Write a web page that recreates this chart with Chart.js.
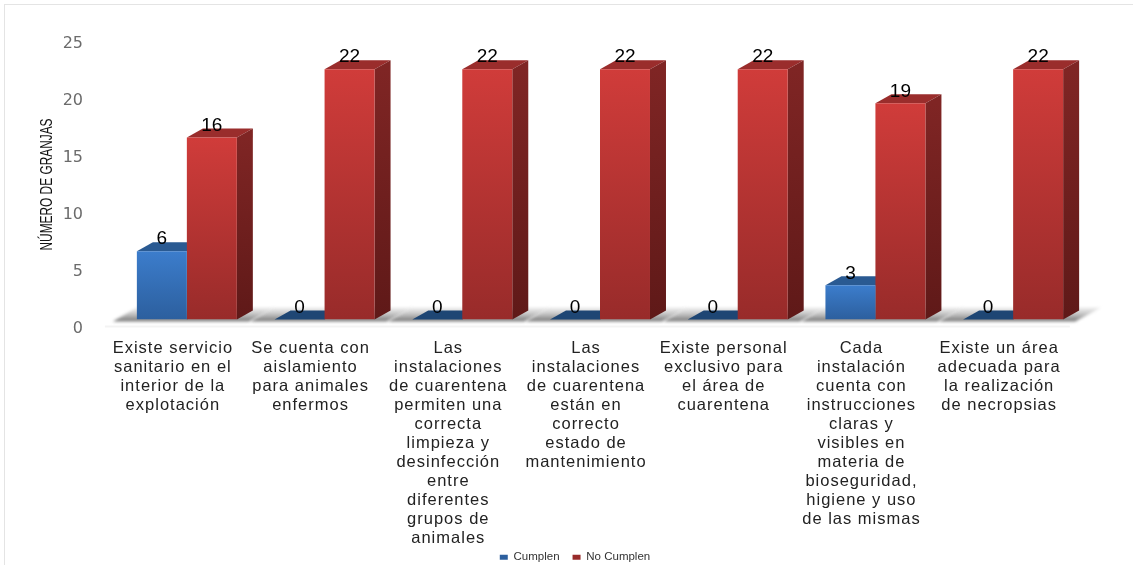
<!DOCTYPE html>
<html lang="es">
<head>
<meta charset="utf-8">
<title>Cuarentena e instalaciones</title>
<script src="https://cdn.jsdelivr.net/npm/chart.js@4"></script>
<style>
  html, body { margin: 0; padding: 0; background: #fff; overflow: hidden; }
  canvas { display: block; }
  #marco { position: absolute; left: 4px; top: 4px; right: 0; bottom: 0; border-left: 1px solid #e4e4e4; border-top: 1px solid #e4e4e4; }
</style>
</head>
<body>
<canvas id="grafico" width="1133" height="565"></canvas>
<div id="marco"></div>
<script>
// Datos
const categorias = [
  ["Existe servicio", "sanitario en el", "interior de la", "explotación"],
  ["Se cuenta con", "aislamiento", "para animales", "enfermos"],
  ["Las", "instalaciones", "de cuarentena", "permiten una", "correcta", "limpieza y", "desinfección", "entre", "diferentes", "grupos de", "animales"],
  ["Las", "instalaciones", "de cuarentena", "están en", "correcto", "estado de", "mantenimiento"],
  ["Existe personal", "exclusivo para", "el área de", "cuarentena"],
  ["Cada", "instalación", "cuenta con", "instrucciones", "claras y", "visibles en", "materia de", "bioseguridad,", "higiene y uso", "de las mismas"],
  ["Existe un área", "adecuada para", "la realización", "de necropsias"],
];
const cumplen = [6, 0, 0, 0, 0, 3, 0];
const noCumplen = [16, 22, 22, 22, 22, 19, 22];
const ticksY = [0, 5, 10, 15, 20, 25];
const tituloY = "NÚMERO DE GRANJAS";

// Profundidad del efecto 3D
const fondoX = 16;
const fondoY = 9;

// Degradado vertical de cada barra
function degradado(arriba, abajo) {
  return function (c) {
    const y = c.chart.scales.y;
    if (c.type !== "data" || !y) return arriba;
    const y0 = y.getPixelForValue(c.raw);
    const y1 = y.getPixelForValue(0);
    if (!Number.isFinite(y0) || !Number.isFinite(y1)) return arriba;
    const g = c.chart.ctx.createLinearGradient(0, y0, 0, y1);
    g.addColorStop(0, arriba);
    g.addColorStop(1, abajo);
    return g;
  };
}

function cara(ctx, puntos, relleno) {
  ctx.beginPath();
  puntos.forEach((p, i) => (i ? ctx.lineTo(p[0], p[1]) : ctx.moveTo(p[0], p[1])));
  ctx.closePath();
  ctx.fillStyle = relleno;
  ctx.fill();
}

const colores3d = [
  { techo: "#2a5a92", lado: "#24507f", cero: "#1e4674" },
  { techo: "#9a2d2c", lado: "#7f2524", ladoAbajo: "#5f1918", cero: "#9a2d2c" },
];

// Sombra del suelo y caras laterales, detras de las barras
const barras3d = {
  id: "barras3d",
  afterLayout(chart) {
    // la leyenda no va centrada en el area del grafico
    chart.legend.left += 15;
    chart.legend.right += 15;
    chart.legend.top += 8;
    chart.legend.bottom += 8;

    // las etiquetas largas pasan por debajo de la leyenda: sin recorte
    const ejeX = chart.scales.x;
    ejeX.bottom = chart.height;
    // el texto original esta estirado a lo ancho
    if (!ejeX._estirado) {
      const dibujar = ejeX.drawLabels.bind(ejeX);
      ejeX.drawLabels = (area) => {
        chart.ctx.save();
        chart.ctx.letterSpacing = "1px";
        dibujar(area);
        chart.ctx.restore();
      };
      ejeX._estirado = true;
    }
  },
  beforeDatasetsDraw(chart) {
    const ctx = chart.ctx;
    const base = chart.scales.y.getPixelForValue(0);
    const azul = chart.getDatasetMeta(0).data;
    const rojo = chart.getDatasetMeta(1).data;

    // linea muy tenue del suelo
    ctx.save();
    ctx.fillStyle = "#f3f3f3";
    ctx.fillRect(azul[0].x - azul[0].width / 2 - 32, base + 6, 965, 2);
    ctx.restore();

    azul.forEach((b, i) => {
      const x0 = b.x - b.width / 2;
      const x1 = rojo[i].x + rojo[i].width / 2;
      const g = ctx.createLinearGradient(0, base - 12, 0, base + 2);
      g.addColorStop(0, "rgba(190,190,190,.25)");
      g.addColorStop(1, "rgba(105,105,105,.95)");
      ctx.save();
      ctx.filter = "blur(1.5px)";
      cara(ctx, [[x0 - 24, base + 2], [x0, base - 12], [x1 + 38, base - 12], [x1 + 12, base + 2]], g);
      ctx.restore();
    });

    [azul, rojo].forEach((data, d) => {
      const col = colores3d[d];
      data.forEach((b) => {
        const x0 = b.x - b.width / 2;
        const x1 = b.x + b.width / 2;
        const alto = base - b.y;
        cara(ctx, [[x0, b.y], [x0 + fondoX, b.y - fondoY], [x1 + fondoX, b.y - fondoY], [x1, b.y]], alto > 0 ? col.techo : col.cero);
        if (alto > 0) {
          const g = ctx.createLinearGradient(0, b.y, 0, base);
          g.addColorStop(0, col.lado);
          g.addColorStop(1, col.ladoAbajo || col.lado);
          cara(ctx, [[x1, b.y], [x1 + fondoX, b.y - fondoY], [x1 + fondoX, base - fondoY], [x1, base]], g);
        }
      });
    });
  },
  // Etiquetas de valor encima de cada barra
  afterDatasetsDraw(chart) {
    const ctx = chart.ctx;
    ctx.save();
    ctx.font = "19px 'Liberation Sans'";
    ctx.fillStyle = "#000";
    ctx.textAlign = "center";
    ctx.textBaseline = "middle";
    chart.data.datasets.forEach((ds, d) => {
      chart.getDatasetMeta(d).data.forEach((b, i) => {
        ctx.fillText(ds.data[i], b.x, b.y - 12);
      });
    });
    ctx.restore();
  },
  // Titulo del eje Y en letra estrecha
  afterDraw(chart) {
    const ctx = chart.ctx;
    ctx.save();
    ctx.translate(47, 184.5);
    ctx.rotate(-Math.PI / 2);
    ctx.scale(0.72, 1);
    ctx.font = "16.5px 'Liberation Sans'";
    ctx.fillStyle = "#111";
    ctx.textAlign = "center";
    ctx.textBaseline = "middle";
    ctx.fillText(tituloY, 0, 0);
    ctx.restore();
  },
};

new Chart(document.getElementById("grafico"), {
  type: "bar",
  plugins: [barras3d],
  data: {
    labels: categorias,
    datasets: [
      { label: "Cumplen", data: cumplen, backgroundColor: degradado("#3c7dcc", "#2c5f9e") },
      { label: "No Cumplen", data: noCumplen, backgroundColor: degradado("#d03c3a", "#982b2a") },
    ],
  },
  options: {
    responsive: false,
    animation: false,
    layout: { padding: { left: 38, right: 51, top: 35, bottom: 0 } },
    datasets: { bar: { barPercentage: 1, categoryPercentage: 0.726 } },
    plugins: {
      tooltip: { enabled: false },
      legend: {
        position: "bottom",
        labels: {
          boxWidth: 8,
          boxHeight: 5,
          padding: 13,
          color: "#333",
          font: { family: "'Liberation Sans'", size: 11.5 },
        },
      },
    },
    scales: {
      x: {
        grid: { display: false, drawTicks: false },
        border: { display: false },
        afterFit(s) { s.height = 211; },
        ticks: {
          autoSkip: false,
          maxRotation: 0,
          minRotation: 0,
          padding: 19,
          labelOffset: -14,
          color: "#222",
          font: { family: "'Liberation Sans'", size: 16.5, lineHeight: 1.152 },
        },
      },
      y: {
        min: ticksY[0],
        max: ticksY[ticksY.length - 1],
        grid: { display: false, drawTicks: false },
        border: { display: false },
        // el padding de las marcas no debe encoger el area del grafico
        afterFit(s) {
          s.width = 80;
          s.paddingTop = 0;
          s.paddingBottom = 0;
        },
        ticks: {
          stepSize: 5,
          padding: 35,
          labelOffset: 9,
          color: "#6b6b6b",
          font: { family: "'DejaVu Sans'", size: 16 },
        },
      },
    },
  },
});
</script>
</body>
</html>
